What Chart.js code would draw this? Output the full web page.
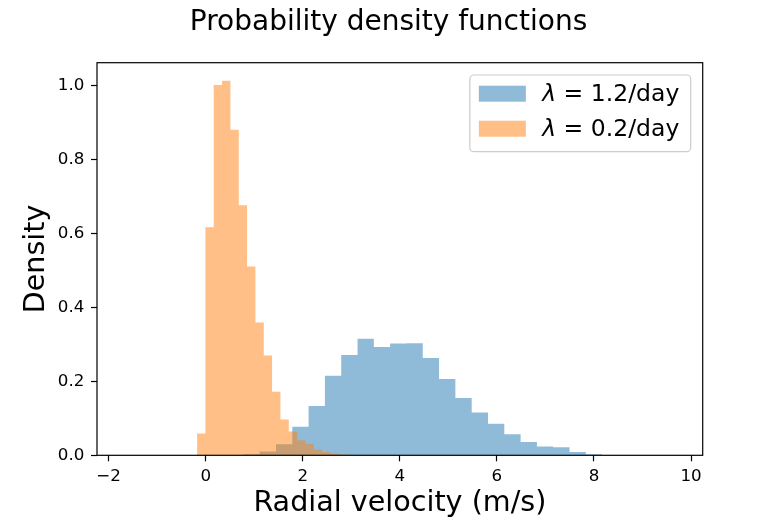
<!DOCTYPE html>
<html>
<head>
<meta charset="utf-8">
<script src="https://cdn.jsdelivr.net/npm/chart.js@4.4.1/dist/chart.umd.min.js"></script>
<style>
  html, body { margin: 0; padding: 0; background: #ffffff; }
  #wrap { width: 781px; height: 521px; position: relative; }
</style>
</head>
<body>
<div id="wrap"><canvas id="c"></canvas></div>
<script>
// ---- data ----
const titleText = 'Probability density functions';
const xTitle = 'Radial velocity (m/s)';
const yTitle = 'Density';
const seriesLabels = ['\u03bb = 1.2/day', '\u03bb = 0.2/day'];

// lambda = 1.2/day histogram: bin edges and densities
const blueEdges = [0.776, 1.112, 1.448, 1.784, 2.120, 2.456, 2.792, 3.128, 3.464, 3.800, 4.136, 4.472,
                   4.808, 5.144, 5.480, 5.816, 6.152, 6.488, 6.824, 7.160, 7.496, 7.832, 8.168];
const blueDensity = [0.003, 0.010, 0.030, 0.077, 0.133, 0.215, 0.271, 0.315, 0.293, 0.302, 0.303,
                     0.263, 0.206, 0.155, 0.116, 0.085, 0.057, 0.036, 0.024, 0.022, 0.009, 0.003];

// lambda = 0.2/day histogram: bin edges and densities
const orangeEdges = [-0.178, -0.006, 0.165, 0.337, 0.509, 0.681, 0.852, 1.024, 1.196, 1.367, 1.539,
                     1.711, 1.882, 2.054, 2.226, 2.398, 2.569, 2.741, 2.913, 3.084, 3.256];
const orangeDensity = [0.059, 0.616, 1.001, 1.012, 0.880, 0.676, 0.510, 0.359, 0.270, 0.172,
                       0.097, 0.064, 0.041, 0.031, 0.016, 0.009, 0.005, 0.002, 0.001, 0.001];

const xTicks = [-2, 0, 2, 4, 6, 8, 10];
const yTicks = [0.0, 0.2, 0.4, 0.6, 0.8, 1.0];
const xRange = [-2.24, 10.24];
const yRange = [0, 1.061];

// ---- helpers ----
function stepPoints(edges, dens) {
  const pts = dens.map((d, i) => ({ x: edges[i], y: d }));
  pts.push({ x: edges[edges.length - 1], y: 0 });
  return pts;
}

const FONT = "'DejaVu Sans', sans-serif";

// figure-level title (centred on the whole canvas, like a suptitle)
const suptitlePlugin = {
  id: 'suptitle',
  afterDraw(chart) {
    const { ctx, width } = chart;
    ctx.save();
    ctx.fillStyle = '#000000';
    ctx.font = `28px ${FONT}`;
    ctx.textAlign = 'center';
    ctx.textBaseline = 'middle';
    ctx.fillText(titleText, width / 2 - 2, 23);
    ctx.restore();
  }
};

const framePlugin = {
  id: 'frame',
  afterDatasetsDraw(chart) {
    const { ctx, chartArea: a } = chart;
    ctx.save();
    ctx.strokeStyle = '#000000';
    ctx.lineWidth = 1.2;
    ctx.strokeRect(a.left, a.top, a.right - a.left, a.bottom - a.top);
    ctx.restore();
  }
};

const legendPlugin = {
  id: 'boxLegend',
  afterDraw(chart) {
    const { ctx, chartArea: a } = chart;
    const fs = 23.5;
    const items = chart.data.datasets.map(ds => ({ label: ds.label, color: ds.backgroundColor }));
    ctx.save();
    const measure = (lbl) => {
      ctx.font = `italic ${fs}px ${FONT}`;
      const w1 = ctx.measureText(lbl[0]).width;
      ctx.font = `${fs}px ${FONT}`;
      return w1 + ctx.measureText(lbl.slice(1)).width;
    };
    const tw = Math.max(...items.map(it => measure(it.label)));
    const padL = 9, patchW = 47, patchH = 16, gap = 16.4, padR = 11.4;
    const w = padL + patchW + gap + tw + padR;
    const h = 76.7;
    const x = a.right - 12 - w;
    const y = a.top + 12.3;
    ctx.beginPath();
    ctx.roundRect(x, y, w, h, 4);
    ctx.fillStyle = 'rgba(255,255,255,0.8)';
    ctx.fill();
    ctx.strokeStyle = '#cccccc';
    ctx.lineWidth = 1.2;
    ctx.stroke();
    items.forEach((it, i) => {
      const cy = y + 18.7 + i * 35;
      ctx.fillStyle = it.color;
      ctx.fillRect(x + padL, cy - patchH / 2, patchW, patchH);
      ctx.fillStyle = '#000000';
      ctx.textBaseline = 'middle';
      ctx.textAlign = 'left';
      let tx = x + padL + patchW + gap;
      ctx.font = `italic ${fs}px ${FONT}`;
      ctx.fillText(it.label[0], tx, cy + 1);
      tx += ctx.measureText(it.label[0]).width;
      ctx.font = `${fs}px ${FONT}`;
      ctx.fillText(it.label.slice(1), tx, cy + 1);
    });
    ctx.restore();
  }
};

const fmtX = v => (v < 0 ? '\u2212' + Math.abs(v) : String(v));

new Chart(document.getElementById('c'), {
  type: 'line',
  data: {
    datasets: [
      {
        label: seriesLabels[0],
        data: stepPoints(blueEdges, blueDensity),
        stepped: 'before',
        fill: 'origin',
        backgroundColor: 'rgba(31,119,180,0.5)',
        borderColor: 'rgba(0,0,0,0)',
        borderWidth: 0,
        pointRadius: 0,
        order: 1
      },
      {
        label: seriesLabels[1],
        data: stepPoints(orangeEdges, orangeDensity),
        stepped: 'before',
        fill: 'origin',
        backgroundColor: 'rgba(255,127,14,0.5)',
        borderColor: 'rgba(0,0,0,0)',
        borderWidth: 0,
        pointRadius: 0,
        order: 0
      }
    ]
  },
  options: {
    responsive: true,
    maintainAspectRatio: false,
    animation: false,
    layout: { padding: { left: 0, right: 78.3, top: 62.7, bottom: 0 } },
    plugins: {
      legend: { display: false },
      tooltip: { enabled: false },
      title: { display: false }
    },
    scales: {
      x: {
        type: 'linear',
        min: xRange[0],
        max: xRange[1],
        afterBuildTicks: s => { s.ticks = xTicks.map(v => ({ value: v })); },
        afterFit: s => { s.height = 65.7; },
        ticks: {
          color: '#000000',
          font: { family: FONT, size: 16.7 },
          padding: 5.7,
          maxRotation: 0,
          autoSkip: false,
          callback: v => fmtX(v)
        },
        grid: { display: true, drawOnChartArea: false, drawTicks: true, tickLength: 6, tickColor: '#000000', tickWidth: 1.2 },
        border: { display: false },
        title: {
          display: true,
          text: xTitle,
          color: '#000000',
          font: { family: FONT, size: 28.6, lineHeight: 1.2 },
          padding: { top: 0, bottom: 0 }
        }
      },
      y: {
        type: 'linear',
        min: yRange[0],
        max: yRange[1],
        afterBuildTicks: s => { s.ticks = yTicks.map(v => ({ value: v })); },
        afterFit: s => { s.width = 97; },
        ticks: {
          color: '#000000',
          font: { family: FONT, size: 16.7 },
          padding: 6.7,
          autoSkip: false,
          callback: v => Number(v).toFixed(1)
        },
        grid: { display: true, drawOnChartArea: false, drawTicks: true, tickLength: 6, tickColor: '#000000', tickWidth: 1.2 },
        border: { display: false },
        title: {
          display: true,
          text: yTitle,
          color: '#000000',
          font: { family: FONT, size: 28.6, lineHeight: 1.2 },
          padding: { top: 19, bottom: 0 }
        }
      }
    }
  },
  plugins: [suptitlePlugin, framePlugin, legendPlugin]
});
</script>
</body>
</html>
